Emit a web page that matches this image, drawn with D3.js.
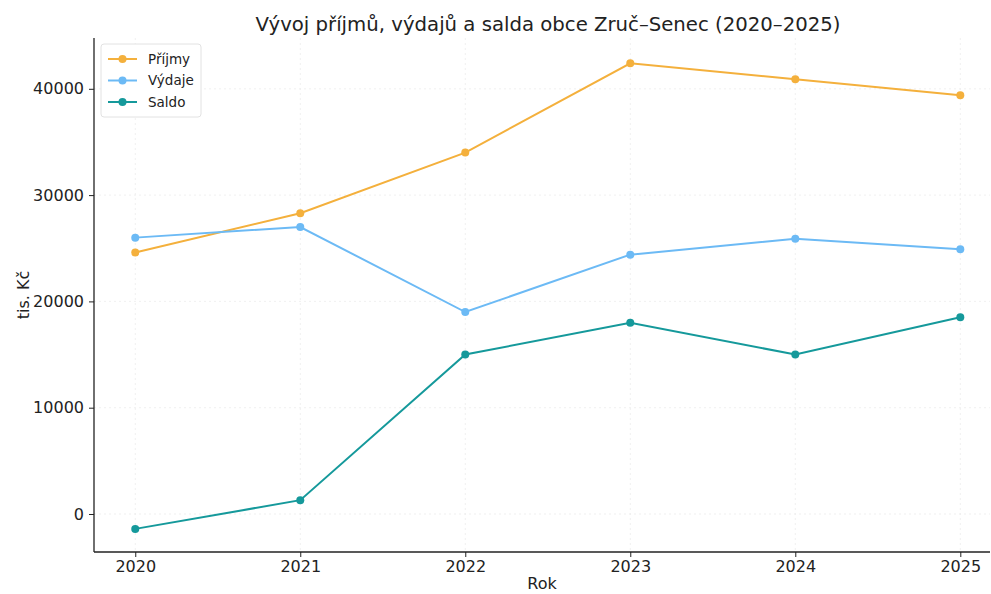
<!DOCTYPE html>
<html>
<head>
<meta charset="utf-8">
<script src="https://cdn.jsdelivr.net/npm/d3@7"></script>
<style>
  body { margin: 0; background: #fff; }
  svg { display: block; font-family: "DejaVu Sans", sans-serif; }
</style>
</head>
<body>
<div id="chart"></div>
<script>
// Data
const years = [2020, 2021, 2022, 2023, 2024, 2025];
const prijmy = [24600, 28300, 34000, 42400, 40900, 39400];
const vydaje = [26000, 27000, 19000, 24400, 25900, 24900];
const saldo = [-1400, 1300, 15000, 18000, 15000, 18500];
const yTicks = [0, 10000, 20000, 30000, 40000];

const series = [
    { name: "Příjmy", values: prijmy, color: "#f4b03c" },
    { name: "Výdaje", values: vydaje, color: "#6cbaf5" },
    { name: "Saldo", values: saldo, color: "#15999b" }
];

const width = 991;
const height = 594;
const margin = { top: 38, right: 1, bottom: 42, left: 94 };

const svg = d3.select("#chart").append("svg")
    .attr("width", width)
    .attr("height", height);

const x = d3.scaleLinear()
    .domain([2019.75, 2025.18])
    .range([margin.left, width - margin.right]);

const y = d3.scaleLinear()
    .domain([-3575, 44780])
    .range([height - margin.bottom, margin.top]);

// Faint grid
const grid = svg.append("g").attr("stroke", "#ececec").attr("stroke-width", 0.8)
    .attr("stroke-dasharray", "2,3");
grid.selectAll("line.v").data(years).join("line")
    .attr("x1", d => x(d)).attr("x2", d => x(d))
    .attr("y1", margin.top).attr("y2", height - margin.bottom);
grid.selectAll("line.h").data(yTicks).join("line")
    .attr("x1", margin.left).attr("x2", width - margin.right)
    .attr("y1", d => y(d)).attr("y2", d => y(d));

// Axes
const xAxis = svg.append("g")
    .attr("transform", `translate(0,${height - margin.bottom})`)
    .call(d3.axisBottom(x).tickValues(years).tickFormat(d3.format("d")).tickSize(5).tickPadding(4));
const yAxis = svg.append("g")
    .attr("transform", `translate(${margin.left},0)`)
    .call(d3.axisLeft(y).tickValues(yTicks).tickFormat(d3.format("d")).tickSize(5).tickPadding(5));

[xAxis, yAxis].forEach(a => {
    a.selectAll("text").attr("font-size", 16).attr("fill", "#222").attr("font-family", "DejaVu Sans");
    a.selectAll("line").attr("stroke", "#222");
    a.select(".domain").attr("stroke", "#222").attr("stroke-width", 1.3);
});
xAxis.select(".domain").attr("d", `M${margin.left},0H${width - margin.right}`);
yAxis.select(".domain").attr("d", `M0,${height - margin.bottom}V${margin.top}`);

// Lines and points
const line = d3.line().x((d, i) => x(years[i])).y(d => y(d));
series.forEach(s => {
    svg.append("path")
        .datum(s.values)
        .attr("fill", "none")
        .attr("stroke", s.color)
        .attr("stroke-width", 2)
        .attr("d", line);
    svg.append("g").selectAll("circle")
        .data(s.values)
        .join("circle")
        .attr("cx", (d, i) => x(years[i]))
        .attr("cy", d => y(d))
        .attr("r", 4)
        .attr("fill", s.color);
});

// Title and axis labels
svg.append("text")
    .attr("x", 548).attr("y", 31)
    .attr("text-anchor", "middle")
    .attr("font-size", 19.7)
    .attr("fill", "#222")
    .text("Vývoj příjmů, výdajů a salda obce Zruč–Senec (2020–2025)");

svg.append("text")
    .attr("x", (margin.left + width - margin.right) / 2).attr("y", 589)
    .attr("text-anchor", "middle")
    .attr("font-size", 16)
    .attr("fill", "#222")
    .text("Rok");

svg.append("text")
    .attr("transform", `translate(29,${(margin.top + height - margin.bottom) / 2}) rotate(-90)`)
    .attr("text-anchor", "middle")
    .attr("font-size", 16)
    .attr("fill", "#222")
    .text("tis. Kč");

// Legend
const legend = svg.append("g").attr("transform", "translate(101,44)");
legend.append("rect")
    .attr("width", 100).attr("height", 73)
    .attr("rx", 3)
    .attr("fill", "#fff")
    .attr("stroke", "#e2e2e2");
series.forEach((s, i) => {
    const g = legend.append("g").attr("transform", `translate(7,${15 + i * 21.5})`);
    g.append("line").attr("x1", 0).attr("x2", 29).attr("stroke", s.color).attr("stroke-width", 2);
    g.append("circle").attr("cx", 14.5).attr("r", 4).attr("fill", s.color);
    g.append("text").attr("x", 40).attr("dy", "0.35em")
        .attr("font-size", 13.5).attr("fill", "#222").text(s.name);
});
</script>
</body>
</html>
